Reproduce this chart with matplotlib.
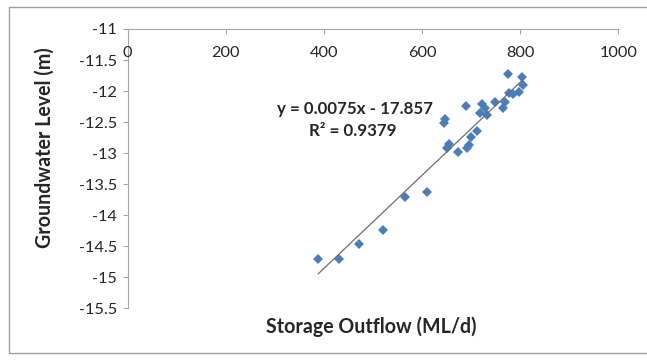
import matplotlib
matplotlib.use("Agg")
import matplotlib.pyplot as plt
import numpy as np
from matplotlib.patches import Rectangle

# Data
storage_outflow = [774.6, 803.1, 806.4, 798.2, 786.0, 777.8, 748.7, 769.1, 764.4,
                   721.6, 728.3, 718.1, 731.8, 689.6, 646.8, 645.3, 711.4, 699.8,
                   695.7, 691.0, 672.6, 655.5, 651.5, 565.2, 610.1, 388.5, 431.3,
                   472.1, 519.8]
groundwater_level = [-11.73, -11.77, -11.90, -12.01, -12.04, -12.03, -12.17, -12.17,
                     -12.27, -12.21, -12.28, -12.36, -12.39, -12.24, -12.45, -12.52,
                     -12.64, -12.74, -12.87, -12.92, -12.98, -12.85, -12.91, -13.70,
                     -13.63, -14.71, -14.71, -14.47, -14.24]
trend_slope = 0.0075
trend_intercept = -17.857
r_squared = 0.9379
x_ticks = [0, 200, 400, 600, 800, 1000]
y_ticks = [-11, -11.5, -12, -12.5, -13, -13.5, -14, -14.5, -15, -15.5]

W, H = 647, 363
fig = plt.figure(figsize=(W / 100, H / 100), dpi=100)
fig.patch.set_facecolor("white")
font = ["Lato", "DejaVu Sans"]
text_color = "#262626"

# outer chart border (right side cut off)
fig.patches.append(Rectangle((8.5 / W, 1 - 352.5 / H), (W + 5) / W, (352.5 - 6.5) / H,
                             transform=fig.transFigure, fill=False,
                             edgecolor="#a0a0a0", linewidth=1.0, clip_on=False))

ax = fig.add_axes([127.7 / W, 1 - 308.3 / H, (618.3 - 127.7) / W, (308.3 - 29) / H])
ax.set_xlim(0, 1000)
ax.set_ylim(-15.5, -11)

axis_color = "#a6a6a6"
for s in ["top", "right"]:
    ax.spines[s].set_visible(False)
ax.spines["bottom"].set_position(("data", -11))
for s in ["bottom", "left"]:
    ax.spines[s].set_color(axis_color)
    ax.spines[s].set_zorder(1)

ax.set_xticks(x_ticks)
ax.set_xticklabels([str(t) for t in x_ticks])
ax.set_yticks(y_ticks)
ax.set_yticklabels([("%g" % t) for t in y_ticks])

renderer = fig.canvas.get_renderer()


def fit_size(txt, size, target, vertical=False):
    t = fig.text(0, 0, txt, fontsize=size, family=font, fontweight="bold" if vertical is not None and vertical != "normal" else "normal")
    return t


def measure(txt, size, weight, rotation=0):
    t = fig.text(0, 0, txt, fontsize=size, family=font, fontweight=weight, rotation=rotation)
    bb = t.get_window_extent(renderer)
    t.remove()
    return bb


# tick label size so that "1000" is ~38 px wide
bb = measure("1000", 10, "normal")
tick_size = 10 * 38.0 / bb.width
tick_len = 5 * 0.72
ax.tick_params(axis="x", direction="out", length=tick_len, color=axis_color, pad=8,
               labelsize=tick_size, labelcolor=text_color)
ax.tick_params(axis="y", direction="out", length=tick_len, color=axis_color, pad=4,
               labelsize=tick_size, labelcolor=text_color)
for lab in ax.get_xticklabels() + ax.get_yticklabels():
    lab.set_fontfamily(font)

# adjust pads to match reference label positions
for _ in range(3):
    fig.canvas.draw()
    xl = ax.get_xticklabels()[0].get_window_extent(renderer)
    cy = H - (xl.y0 + xl.y1) / 2
    xpad = ax.xaxis.get_major_ticks()[0].get_pad()
    ax.tick_params(axis="x", pad=xpad + (53 - cy) * 0.72)
    yl = ax.get_yticklabels()[0].get_window_extent(renderer)
    ypad = ax.yaxis.get_major_ticks()[0].get_pad()
    ax.tick_params(axis="y", pad=ypad + (yl.x1 - 117) * 0.72)

# scatter
ax.plot(storage_outflow, groundwater_level, linestyle="none", marker="D",
        markersize=5.2, color="#4a7ebb", markeredgewidth=0, zorder=3, clip_on=False)

# linear trendline over data range
xs = np.array([min(storage_outflow), max(storage_outflow)])
ax.plot(xs, trend_slope * xs + trend_intercept, color="#6e6e6e", linewidth=0.9,
        zorder=4, clip_on=False)

# equation text
eq1 = "y = 0.0075x - 17.857"
eq2 = "R\u00b2 = %.4f" % r_squared
bb = measure(eq1, 10, "bold")
eq_size = 10 * 156.0 / bb.width
fig.text(354.7 / W, 1 - 108.7 / H, eq1, ha="center", va="center",
         fontsize=eq_size, fontweight="bold", family=font, color=text_color)
fig.text(352.5 / W, 1 - 131.3 / H, eq2, ha="center", va="center",
         fontsize=eq_size, fontweight="bold", family=font, color=text_color)

# axis titles
xt = "Storage Outflow (ML/d)"
yt = "Groundwater Level (m)"
bb = measure(yt, 10, "bold")
title_size = 10 * 201.0 / bb.width
fig.text(371.5 / W, 1 - 327 / H, xt, ha="center", va="center",
         fontsize=title_size, fontweight="bold", family=font, color=text_color)
fig.text(45 / W, 1 - 147.5 / H, yt, ha="center", va="center",
         rotation=90, fontsize=title_size, fontweight="bold", family=font, color=text_color)

fig.savefig("out.png", dpi=100, facecolor="white")
